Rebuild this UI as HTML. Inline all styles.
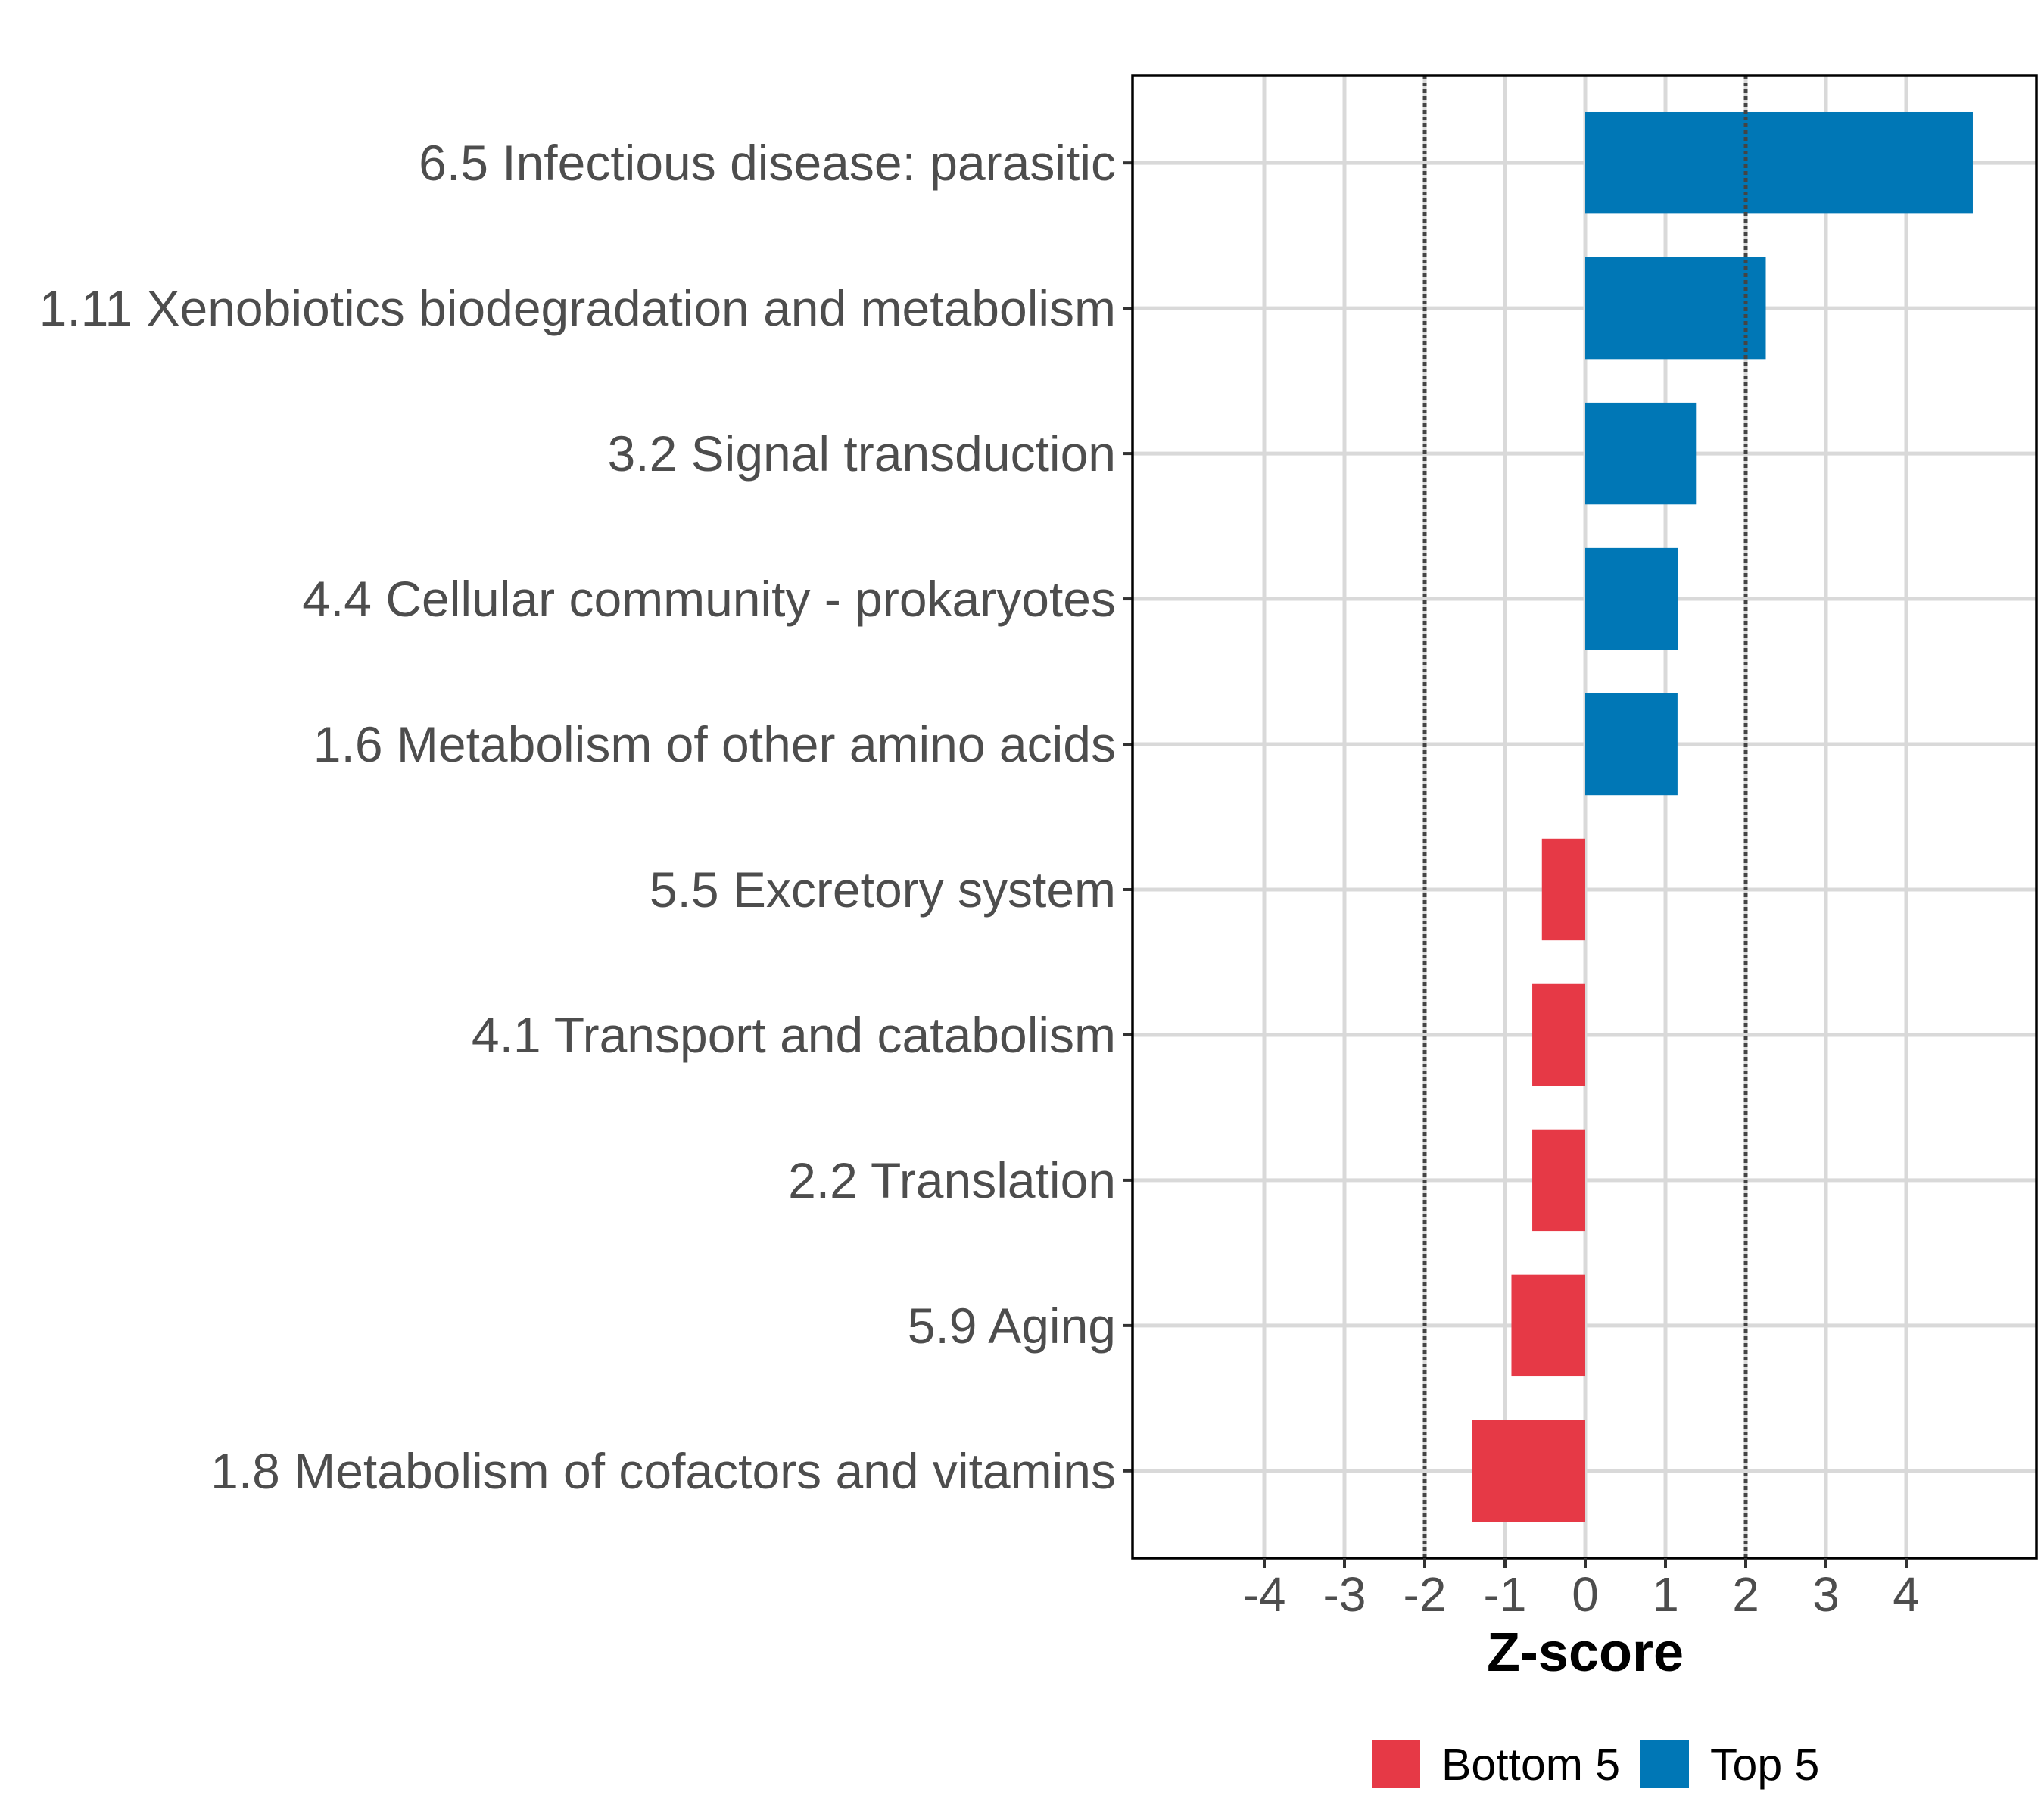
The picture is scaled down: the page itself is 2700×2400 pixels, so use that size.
<!DOCTYPE html>
<html><head><meta charset="utf-8"><style>html,body{margin:0;padding:0;background:#fff}svg{display:block}</style></head>
<body>
<svg id="chart" width="2700" height="2400" xmlns="http://www.w3.org/2000/svg" font-family="Liberation Sans, Arial, sans-serif"></svg>
<script>
const categories = ["6.5 Infectious disease: parasitic","1.11 Xenobiotics biodegradation and metabolism","3.2 Signal transduction","4.4 Cellular community - prokaryotes","1.6 Metabolism of other amino acids","5.5 Excretory system","4.1 Transport and catabolism","2.2 Translation","5.9 Aging","1.8 Metabolism of cofactors and vitamins"];
const values = [4.83, 2.25, 1.38, 1.16, 1.15, -0.54, -0.66, -0.66, -0.92, -1.41];
const groups = ["Top 5","Top 5","Top 5","Top 5","Top 5","Bottom 5","Bottom 5","Bottom 5","Bottom 5","Bottom 5"];
const xTicks = [-4,-3,-2,-1,0,1,2,3,4];
const thresholds = [-2, 2];
const colors = {"Bottom 5":"#E63946","Top 5":"#0077B6"};

const svg = document.getElementById('chart');
const NS = 'http://www.w3.org/2000/svg';
const L=1496, R=2690, T=100, B=2058;
const x0=2094, unit=106;
const xs = v => x0 + v*unit;
const step = (B-T)/(categories.length-1+1.2);
const ys = i => T + 0.6*step + i*step;
function mk(tag, attrs, parent){const e=document.createElementNS(NS,tag);for(const k in attrs)e.setAttribute(k,attrs[k]);(parent||svg).appendChild(e);return e;}

const grid = mk('g',{});


xTicks.forEach(t=>{
  const l=mk('line',{x1:xs(t),x2:xs(t),y1:T,y2:B,stroke:'#d9d9d9','stroke-width':5},grid);
  
  
});
categories.forEach((c,i)=>{
  const l=mk('line',{x1:L,x2:R,y1:ys(i),y2:ys(i),stroke:'#d9d9d9','stroke-width':5},grid);
  
  
});

categories.forEach((c,i)=>{
  const v=values[i];
  const h=step*0.7;
  const r=mk('rect',{x:Math.min(xs(0),xs(v)),y:ys(i)-h/2,width:Math.abs(xs(v)-xs(0)),height:h,fill:colors[groups[i]]});
  
  
  const tk=mk('line',{x1:L-13,x2:L,y1:ys(i),y2:ys(i),stroke:'#333','stroke-width':4});
  
  
  const t=mk('text',{x:L-22,y:ys(i)+23,'text-anchor':'end','font-size':66,fill:'#4d4d4d'});
  t.textContent=c;
  
  
});

thresholds.forEach(v=>{
  const l=mk('line',{x1:xs(v),x2:xs(v),y1:T,y2:B,stroke:'#444','stroke-width':5,'stroke-dasharray':'5 4'});
  
  
});

const border=mk('rect',{x:L,y:T,width:R-L,height:B-T,fill:'none',stroke:'#000','stroke-width':3.5});



xTicks.forEach(v=>{
  const tk=mk('line',{x1:xs(v),x2:xs(v),y1:B,y2:B+13,stroke:'#333','stroke-width':4});
  
  
  const t=mk('text',{x:xs(v),y:2128,'text-anchor':'middle','font-size':64,fill:'#4d4d4d'});
  t.textContent=String(v);
  
  
});

const xt=mk('text',{x:xs(0),y:2207,'text-anchor':'middle','font-size':72,'font-weight':'bold',fill:'#000'});
xt.textContent='Z-score';



const legend=mk('g',{});


[["Bottom 5",1812,1904],["Top 5",2167,2259]].forEach(([k,sx,tx])=>{
  const r=mk('rect',{x:sx,y:2298,width:64,height:64,fill:colors[k]},legend);
  
  
  const t=mk('text',{x:tx,y:2351,'font-size':59,fill:'#000'},legend);
  t.textContent=k;
  
  
});
</script>
</body></html>
